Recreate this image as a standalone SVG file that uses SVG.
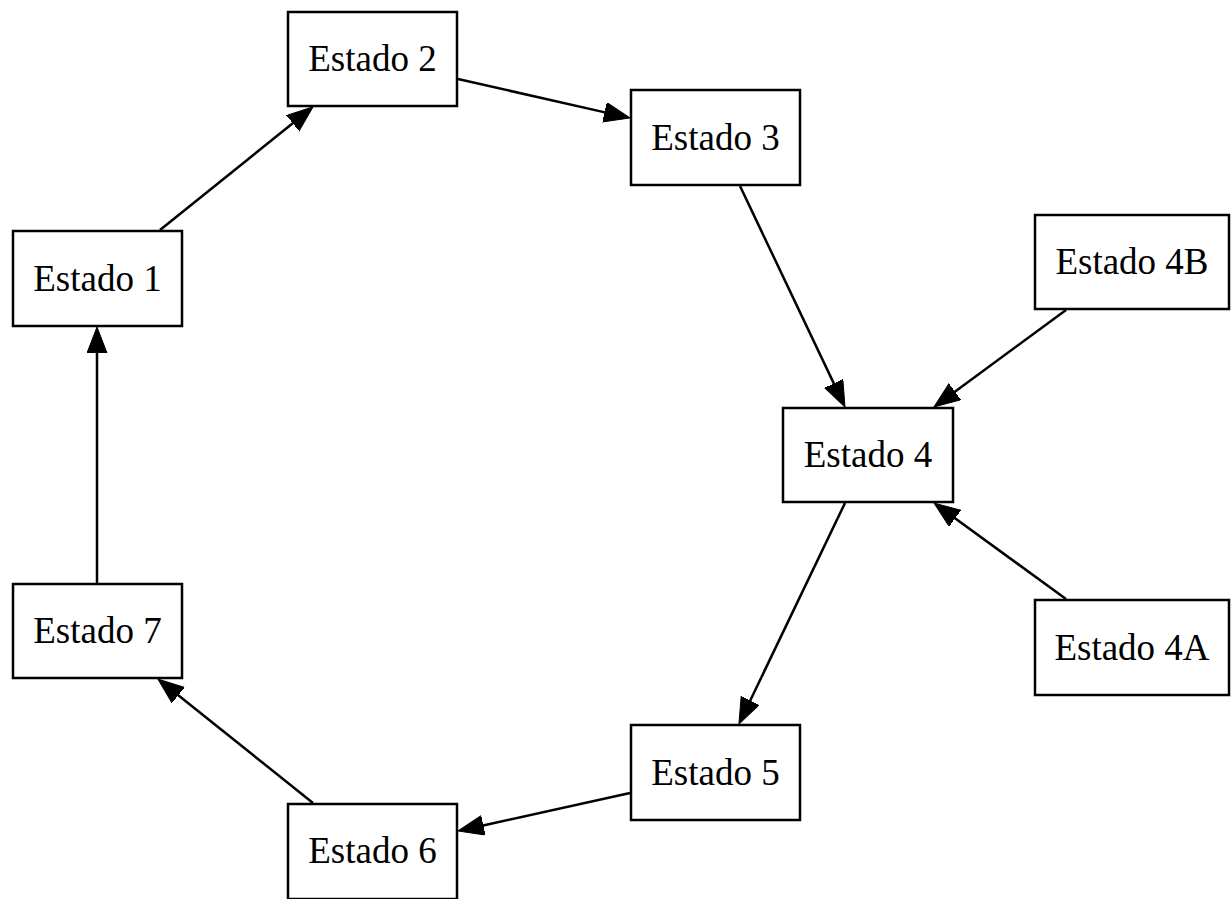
<svg xmlns="http://www.w3.org/2000/svg" width="1232" height="899" viewBox="0 0 1232 899">
<style>
.box{fill:#fff;stroke:#000;stroke-width:2.5}
.lbl{font-family:"Liberation Serif","Times New Roman",serif;font-size:37px;fill:#000;text-anchor:middle}
.edge{stroke:#000;stroke-width:2.5;fill:none;marker-end:url(#arr)}
</style>
<defs>
<marker id="arr" markerUnits="userSpaceOnUse" markerWidth="28" markerHeight="22" refX="6" refY="10" orient="auto" viewBox="0 0 28 22">
<path d="M0,0 L26,10 L0,20 Z" fill="#000" stroke="#000" stroke-width="1"/>
</marker>
</defs>
<rect width="1232" height="899" fill="#fff"/>
<g id="connectors">
<line class="edge" x1="160" y1="230" x2="297.4" y2="119.5"/>
<line class="edge" x1="458" y1="79" x2="610.5" y2="113.6"/>
<line class="edge" x1="740" y1="186" x2="836.4" y2="388.9"/>
<line class="edge" x1="1066" y1="310" x2="950.1" y2="395.2"/>
<line class="edge" x1="1066" y1="599" x2="950.2" y2="514.8"/>
<line class="edge" x1="845" y1="503" x2="747.6" y2="706"/>
<line class="edge" x1="630" y1="793" x2="477.5" y2="826.7"/>
<line class="edge" x1="313" y1="803" x2="173.6" y2="691.5"/>
<line class="edge" x1="97" y1="583" x2="97" y2="347"/>
</g>
<g id="estado1"><rect class="box" x="13" y="231" width="169" height="95"/><text class="lbl" x="97.5" y="290.5">Estado 1</text></g>
<g id="estado2"><rect class="box" x="288" y="12" width="169" height="94"/><text class="lbl" x="372.5" y="71">Estado 2</text></g>
<g id="estado3"><rect class="box" x="631" y="90" width="169" height="95"/><text class="lbl" x="715.5" y="149.5">Estado 3</text></g>
<g id="estado4b"><rect class="box" x="1035" y="215" width="194" height="94"/><text class="lbl" x="1132" y="274">Estado 4B</text></g>
<g id="estado4"><rect class="box" x="783" y="408" width="170" height="94"/><text class="lbl" x="868" y="467">Estado 4</text></g>
<g id="estado4a"><rect class="box" x="1035" y="600" width="194" height="95"/><text class="lbl" x="1132" y="659.5">Estado 4A</text></g>
<g id="estado5"><rect class="box" x="631" y="725" width="169" height="95"/><text class="lbl" x="715.5" y="784.5">Estado 5</text></g>
<g id="estado6"><rect class="box" x="288" y="804" width="169" height="95"/><text class="lbl" x="372.5" y="863">Estado 6</text></g>
<g id="estado7"><rect class="box" x="13" y="584" width="169" height="94"/><text class="lbl" x="97.5" y="643">Estado 7</text></g>
</svg>
